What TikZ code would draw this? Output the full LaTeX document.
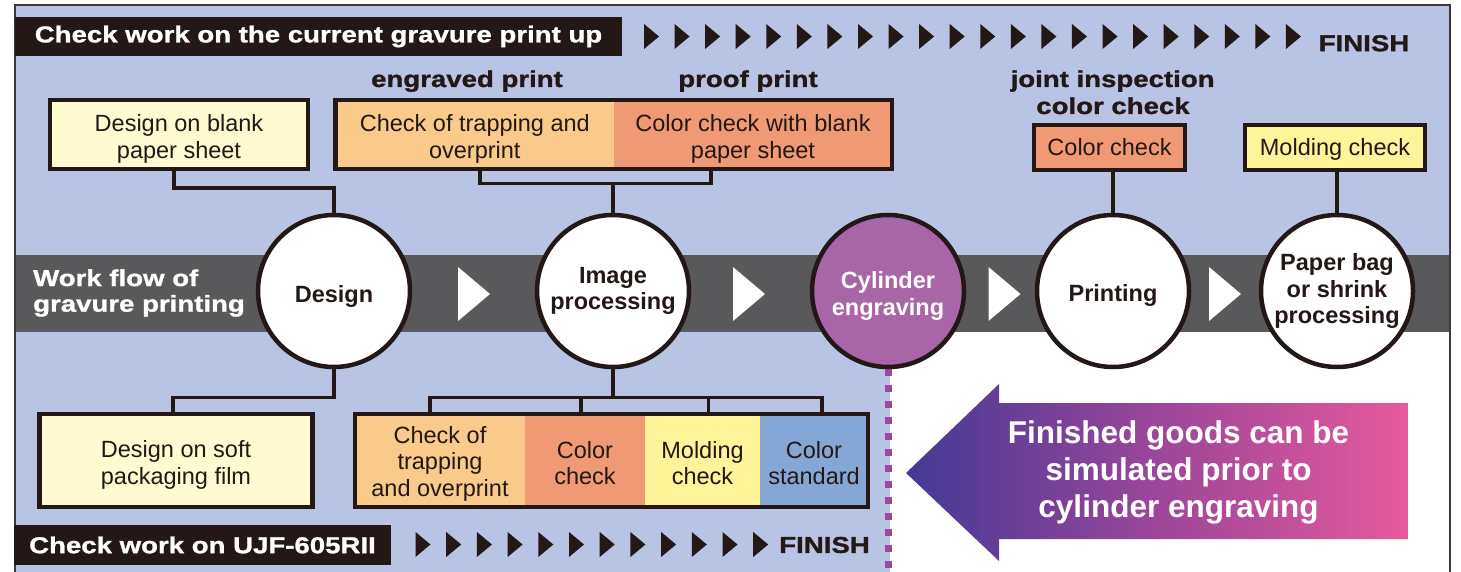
\documentclass[tikz,border=0pt]{standalone}
\usepackage{fontspec}
\setmainfont{Liberation Sans}
\newfontfamily\hdrfont[FakeStretch=1.2,FakeBold=1.2]{Liberation Sans}
\usetikzlibrary{calc}
\pgfdeclarelayer{background}
\pgfsetlayers{background,main}
\newcommand\txdn[1]{\rule{0pt}{#1}}

\definecolor{bgblue}{HTML}{B9C3E4}
\definecolor{band}{HTML}{59585A}
\definecolor{hdrblack}{HTML}{231815}
\definecolor{framecol}{HTML}{3A3A3C}
\definecolor{pyellow}{HTML}{FFFAD0}
\definecolor{porange}{HTML}{F9CA8A}
\definecolor{salmon}{HTML}{F09A75}
\definecolor{myellow}{HTML}{FFF49A}
\definecolor{sblue}{HTML}{84A7D6}
\definecolor{cylpurple}{HTML}{A866A8}
\definecolor{dotpurple}{HTML}{9A4A9E}
\definecolor{arrL}{HTML}{433A95}
\definecolor{arrM}{HTML}{9C469A}
\definecolor{arrR}{HTML}{E7599B}

\tikzset{
  hdrbar/.style={fill=hdrblack, text=white, inner sep=0pt,
    font=\hdrfont\bfseries\fontsize{23}{26}\selectfont},
  finish/.style={text=hdrblack, inner sep=0pt,
    font=\hdrfont\bfseries\fontsize{23}{26}\selectfont},
  lbl/.style={text=hdrblack, inner sep=0pt,
    font=\hdrfont\bfseries\fontsize{23}{26}\selectfont},
  bandtext/.style={text=white, inner sep=0pt, align=left,
    font=\hdrfont\bfseries\fontsize{23}{25.7}\selectfont},
  box/.style={draw=hdrblack, line width=4.5pt, inner sep=0pt, align=center,
    text=hdrblack, font=\fontsize{23.5}{27}\selectfont},
  seg/.style={inner sep=0pt, align=center, text=hdrblack,
    font=\fontsize{23.5}{26.5}\selectfont},
  boxline/.style={draw=hdrblack, line width=4.5pt},
  stage/.style={circle, draw=hdrblack, line width=4.5pt, fill=white,
    minimum size=152pt, inner sep=0pt, align=center, text=hdrblack,
    font=\bfseries\fontsize{23.5}{26.5}\selectfont},
  conn/.style={draw=hdrblack, line width=3.5pt},
  dotline/.style={draw=dotpurple, line width=7pt, dash pattern=on 7pt off 9pt},
  arrtext/.style={text=white, inner sep=0pt, align=center,
    font=\bfseries\fontsize{31.5}{37}\selectfont},
  tdown/.style={execute at begin node={\rule{0pt}{#1}}},
}

\begin{document}
\begin{tikzpicture}[x=1pt,y=-1pt]
\useasboundingbox (0,0) rectangle (1461,572);
\begin{pgfonlayer}{background}
  \fill[white] (0,0) rectangle (1461,572);
  \fill[bgblue] (15,5) rectangle (1450,572);
  \fill[white] (890,332) rectangle (1450,572);
  \fill[band] (15,255) rectangle (1450,332);
  \draw[framecol, line width=1.8pt] (15,572) -- (15,5) -- (1450,5) -- (1450,572);
\end{pgfonlayer}

% top header
\node[hdrbar, minimum width=607, minimum height=39] (tophdr) at (318.5,36.5)
  {Check work on the current gravure print up};
\foreach \i in {0,...,21}
  \fill[hdrblack] ({644+\i*30.57},24) -- ++(15,12.5) -- ++(-15,12.5) -- cycle;
\node[finish] (fin1) at (1364,43.3) {FINISH};

% bottom header
\node[hdrbar, minimum width=377, minimum height=40] (bothdr) at (202.5,545)
  {Check work on UJF-605RII};
\foreach \i in {0,...,11}
  \fill[hdrblack] ({415.5+\i*30.7},532) -- ++(15,12.5) -- ++(-15,12.5) -- cycle;
\node[finish] (fin2) at (824.5,545) {FINISH};

% band
\node[bandtext, anchor=west] (wf) at (33,293) {Work flow of\\gravure printing};
\foreach \x in {458,733,988.5,1209}
  \fill[white] (\x,267) -- ++(32,27) -- ++(-32,27) -- cycle;

% labels above
\node[lbl, anchor=base] (engr) at (467,87) {engraved print};
\node[lbl, anchor=base] (proofl) at (748,87) {proof print};
\node[lbl, anchor=base] (joint1) at (1112.6,87) {joint inspection};
\node[lbl, anchor=base] (joint2) at (1113,114) {color check};

% top boxes
\node[box, fill=pyellow, minimum width=258, minimum height=69] (blank) at (179,134.5)
  {\txdn{25.5pt}Design on blank\\paper sheet};
\node[seg, fill=porange, minimum width=278.4, minimum height=69] (trap1) at (474.8,134.5)
  {\txdn{25.5pt}Check of trapping and\\overprint};
\node[seg, fill=salmon, minimum width=278, minimum height=69] (proof) at (753,134.5)
  {\txdn{25.5pt}Color check with blank\\paper sheet};
\draw[boxline] (trap1.north west) rectangle (proof.south east);
\node[box, fill=salmon, minimum width=151, minimum height=45] (colchk) at (1109.5,147.5)
  {Color check};
\node[box, tdown=21pt, fill=myellow, minimum width=180, minimum height=45] (mold) at (1335,147.5)
  {Molding check};

% bottom boxes
\node[box, fill=pyellow, minimum width=273, minimum height=93] (soft) at (176,460.5)
  {\txdn{25pt}Design on soft\\packaging film};
\node[seg, fill=porange, minimum width=170, minimum height=93] (c1) at (440,460.5)
  {\txdn{23pt}Check of\\trapping\\and overprint};
\node[seg, fill=salmon, minimum width=120, minimum height=93] (c2) at (585,460.5)
  {\txdn{22pt}Color\\check};
\node[seg, fill=myellow, minimum width=115, minimum height=93] (c3) at (702.5,460.5)
  {\txdn{22pt}Molding\\check};
\node[seg, fill=sblue, minimum width=108, minimum height=93] (c4) at (814,460.5)
  {\txdn{22pt}Color\\standard};
\draw[boxline] (c1.north west) rectangle (c4.south east);

% stages
\node[stage, tdown=27pt] (design) at (334,291) {Design};
\node[stage] (imgproc) at (613,291) {Image\\processing};
\node[stage, fill=cylpurple, text=white] (cyl) at (888,291) {\txdn{27pt}Cylinder\\engraving};
\node[stage, tdown=25pt] (printing) at (1113,291) {Printing};
\node[stage] (bag) at (1337,291) {Paper bag\\or shrink\\processing};

% dotted line
\coordinate (dotend) at (888,580);
\begin{pgfonlayer}{background}
  \draw[dotline] (cyl.south) -- (dotend);
\end{pgfonlayer}

% top connectors
\draw[conn] ([xshift=-5pt]blank.south) -- ++(0,17) -| (design.north);
\path (imgproc.north) ++(0,-29) coordinate (tj);
\coordinate (t1) at ([xshift=5pt]trap1.south);
\coordinate (t2) at ([xshift=-42pt]proof.south);
\draw[conn] (t1) |- (tj) -| (t2);
\draw[conn] (tj) -- (imgproc.north);
\draw[conn] (printing.north) -- (printing.north |- colchk.south);
\draw[conn] (bag.north) -- (bag.north |- mold.south);

% bottom connectors
\coordinate (s1) at ([xshift=-3pt]soft.north);
\draw[conn] (design.south) -- ++(0,28) -| (s1);
\path (imgproc.south) ++(0,28) coordinate (bj);
\coordinate (v1) at ([xshift=-10pt]c1.north);
\coordinate (v2) at ([xshift=-4pt]c2.north);
\coordinate (v3) at ([xshift=6pt]c3.north);
\coordinate (v4) at ([xshift=8pt]c4.north);
\draw[conn] (v1) |- (bj) -| (v4);
\draw[conn] (bj) -- (imgproc.south);
\draw[conn] (v2) -- (v2 |- bj);
\draw[conn] (v3) -- (v3 |- bj);

% big arrow
\shade[left color=arrL, right color=arrR, middle color=arrM]
  (906,473) -- (999,384) -- (999,403) -- (1408,403) -- (1408,539)
  -- (999,539) -- (999,561) -- cycle;
\node[arrtext] (note) at (1178.5,472.5)
  {Finished goods can be\\simulated prior to\\cylinder engraving};
\end{tikzpicture}
\end{document}
